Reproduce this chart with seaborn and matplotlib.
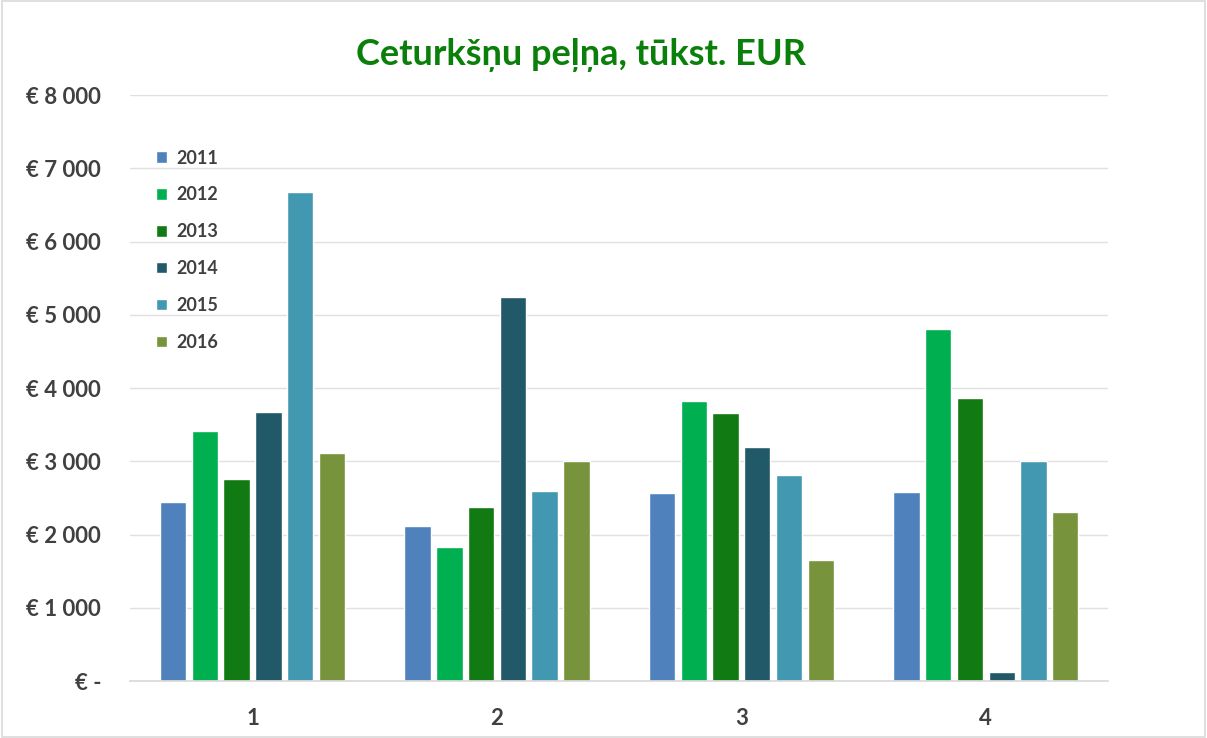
import pandas as pd
import matplotlib.pyplot as plt
import matplotlib.patches as patches
import seaborn as sns

# data (thousand EUR)
quarters = ['1', '2', '3', '4']
years = ['2011', '2012', '2013', '2014', '2015', '2016']
profit_2011 = [2440, 2115, 2565, 2580]
profit_2012 = [3415, 1830, 3825, 4805]
profit_2013 = [2760, 2375, 3660, 3860]
profit_2014 = [3670, 5240, 3195, 125]
profit_2015 = [6675, 2595, 2815, 3005]
profit_2016 = [3110, 3005, 1655, 2305]
colors = ['#4f81bd', '#00b050', '#127a12', '#215968', '#4298b0', '#77933c']

series = [profit_2011, profit_2012, profit_2013, profit_2014, profit_2015, profit_2016]
rows = []
for yr, vals in zip(years, series):
    for q, v in zip(quarters, vals):
        rows.append({'Quarter': q, 'Year': yr, 'Profit': v})
df = pd.DataFrame(rows)

sns.set_theme(style='white')
plt.rcParams['font.family'] = ['Lato', 'DejaVu Sans']

fig = plt.figure(figsize=(12.07, 7.38), dpi=100)
ax = fig.add_axes([0.108, 0.077, 0.81, 0.794])

sns.barplot(data=df, x='Quarter', y='Profit', hue='Year', palette=colors,
            saturation=1, width=0.78, gap=0.17, ax=ax, legend=True)

ax.set_ylim(0, 8000)
ax.set_yticks(range(0, 8001, 1000))
ylabels = ['€ -'] + ['€ {:,}'.format(v).replace(',', ' ') for v in range(1000, 8001, 1000)]
ax.set_yticklabels(ylabels, fontsize=16, fontweight='bold', color='#404040')
ax.tick_params(axis='y', length=0, pad=21)
ax.tick_params(axis='x', length=0, pad=19)
for lbl in ax.get_xticklabels():
    lbl.set_fontsize(16)
    lbl.set_fontweight('bold')
    lbl.set_color('#404040')
ax.set_xlabel('')
ax.set_ylabel('')
ax.grid(axis='y', color='#e0e0e0', linewidth=1)
ax.set_axisbelow(True)
for side in ['top', 'right', 'left']:
    ax.spines[side].set_visible(False)
ax.spines['bottom'].set_color('#d9d9d9')

leg = ax.legend(loc='upper left', bbox_to_anchor=(0.01, 0.935), frameon=False,
                handlelength=0.6, handleheight=0.6, handletextpad=0.5,
                labelspacing=1.1, prop={'weight': 'bold', 'size': 13})
for t in leg.get_texts():
    t.set_color('#404040')

fig.text(0.481, 0.925, 'Ceturkšņu peļņa, tūkst. EUR', ha='center', va='center',
         fontsize=26, fontweight='bold', color='#0a800a')

# thin light border around the chart area
fig.patches.append(patches.Rectangle((0.002, 0.002), 0.996, 0.996, transform=fig.transFigure,
                                     fill=False, edgecolor='#d9d9d9', linewidth=1.2))

fig.savefig('out.png', dpi=100)
